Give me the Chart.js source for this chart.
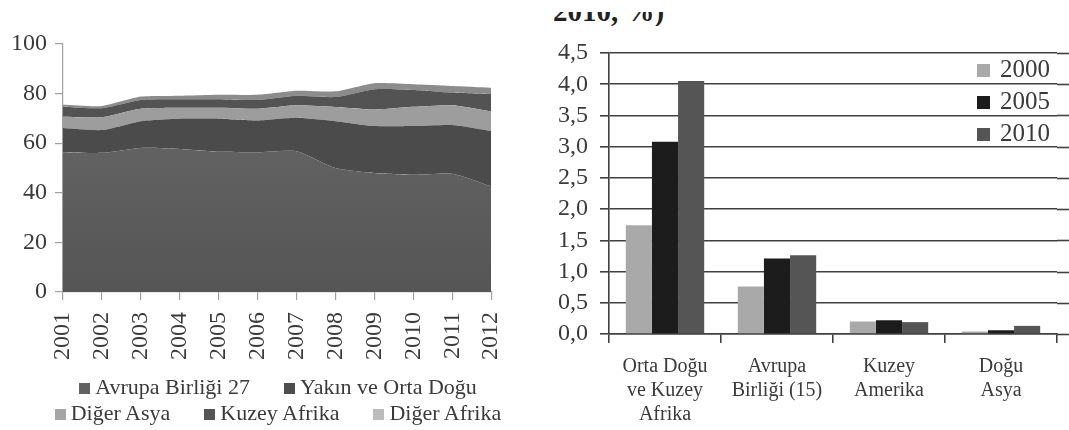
<!DOCTYPE html>
<html>
<head>
<meta charset="utf-8">
<script src="https://cdn.jsdelivr.net/npm/chart.js"></script>
<style>
  html, body { margin: 0; padding: 0; background: #fff; overflow: hidden; }
  body { width: 1069px; height: 430px; position: relative; font-family: "Liberation Serif", "Times New Roman", serif; color: #3a3a3a; }
  canvas { position: absolute; }
  #areaChart { left: 0; top: 0; }
  #barChart { left: 530px; top: 0; }
  #title { position: absolute; left: 553px; top: 12px; height: 14px; overflow: hidden; }
  #title div { position: relative; top: -15px; font: bold 29px "Liberation Serif", serif; line-height: 29px; color: #222; white-space: nowrap; }
  .legend-left { position: absolute; left: 0; top: 374px; width: 556px; text-align: center; font-size: 22px; }
  .legend-left .row { line-height: 26px; height: 26px; white-space: nowrap; }
  .legend-left .item { display: inline-block; margin: 0 17px; }
  .sw { display: inline-block; width: 11px; height: 11px; margin-right: 5px; }
  .legend-right { position: absolute; left: 977px; top: 53px; font-size: 25px; }
  .legend-right .row { line-height: 32px; height: 32px; white-space: nowrap; }
  .legend-right .sw { width: 13px; height: 13px; margin-right: 10px; }
</style>
</head>
<body>
<div id="title"><div>2010, %)</div></div>
<canvas id="areaChart" width="532" height="370"></canvas>
<canvas id="barChart" width="539" height="430"></canvas>
<div class="legend-left" id="legendLeft"></div>
<div class="legend-right" id="legendRight"></div>
<script>
// left chart: share of markets, stacked area
const years = ['2001', '2002', '2003', '2004', '2005', '2006', '2007', '2008', '2009', '2010', '2011', '2012'];
const avrupa = [56.4, 56.1, 58.1, 57.7, 56.6, 56.4, 56.8, 50.0, 48.0, 47.3, 47.7, 42.6];
const yakin = [9.7, 9.2, 10.8, 12.2, 13.3, 12.8, 13.5, 18.9, 18.9, 19.6, 19.6, 22.3];
const digerAsya = [4.6, 5.2, 5.0, 4.4, 4.4, 4.7, 5.0, 5.7, 6.7, 7.8, 8.0, 7.9];
const kuzeyAfrika = [4.0, 3.6, 3.5, 3.4, 3.4, 3.5, 3.8, 4.0, 8.2, 6.8, 5.1, 7.0];
const digerAfrika = [0.8, 0.9, 1.4, 1.4, 1.8, 2.1, 2.0, 2.3, 2.4, 2.3, 2.7, 2.6];
const areaTicks = [0, 20, 40, 60, 80, 100];

// right chart: bars by region
const regions = [['Orta Doğu', 've Kuzey', 'Afrika'], ['Avrupa', 'Birliği (15)'], ['Kuzey', 'Amerika'], ['Doğu', 'Asya']];
const v2000 = [1.74, 0.76, 0.20, 0.04];
const v2005 = [3.08, 1.21, 0.22, 0.06];
const v2010 = [4.05, 1.26, 0.19, 0.13];
const barTicks = [0, 0.5, 1, 1.5, 2, 2.5, 3, 3.5, 4, 4.5];

const serif = '"Liberation Serif", "Times New Roman", serif';
const textColor = '#3a3a3a';
const gridColor = '#404040';

Chart.defaults.animation = false;
Chart.defaults.responsive = false;
Chart.defaults.font.family = serif;
Chart.defaults.color = textColor;

const areaSeries = [
  { label: 'Avrupa Birliği 27', data: avrupa, fill: null, legend: '#626262' },
  { label: 'Yakın ve Orta Doğu', data: yakin, fill: '#4b4b4b', legend: '#4d4d4d' },
  { label: 'Diğer Asya', data: digerAsya, fill: '#9d9d9d', legend: '#a5a5a5' },
  { label: 'Kuzey Afrika', data: kuzeyAfrika, fill: '#535353', legend: '#555555' },
  { label: 'Diğer Afrika', data: digerAfrika, fill: '#8c8c8c', legend: '#bcbcbc' },
];

function avrupaFill(ctx) {
  const area = ctx.chart.chartArea;
  if (!area) return '#5f5f5f';
  const g = ctx.chart.ctx.createLinearGradient(0, area.top, 0, area.bottom);
  g.addColorStop(0, '#6b6b6b');
  g.addColorStop(1, '#555555');
  return g;
}

new Chart(document.getElementById('areaChart'), {
  type: 'line',
  data: {
    labels: years,
    datasets: areaSeries.map((s, i) => ({
      label: s.label,
      data: s.data,
      fill: i === 0 ? 'origin' : '-1',
      backgroundColor: i === 0 ? avrupaFill : s.fill,
      borderWidth: 0,
      pointRadius: 0,
      tension: 0.2,
    })),
  },
  options: {
    layout: { padding: { top: 44, right: 40, left: 0, bottom: 0 } },
    plugins: { legend: { display: false }, tooltip: { enabled: false } },
    scales: {
      x: {
        offset: false,
        afterFit: (s) => { s.height = 78; },
        grid: { drawOnChartArea: false, tickLength: 8, color: '#a0a0a0', lineWidth: 1.2 },
        border: { color: '#a0a0a0', width: 1.2 },
        ticks: { autoSkip: false, minRotation: 90, maxRotation: 90, padding: 12, font: { size: 24 }, color: textColor },
      },
      y: {
        stacked: true,
        min: 0,
        max: 100,
        afterFit: (s) => { s.width = 63; },
        afterBuildTicks: (s) => { s.ticks = areaTicks.map(v => ({ value: v })); },
        grid: { drawOnChartArea: false, tickLength: 8, color: '#a0a0a0', lineWidth: 1.2 },
        border: { color: '#a0a0a0', width: 1.2 },
        ticks: { autoSkip: false, padding: 8, font: { size: 24 }, color: textColor },
      },
    },
  },
});

// gridlines in the reference run on past the plot edge
const extendGrid = {
  id: 'extendGrid',
  afterDraw(chart) {
    const { ctx, chartArea, scales } = chart;
    ctx.save();
    ctx.strokeStyle = gridColor;
    ctx.lineWidth = 1.6;
    scales.y.ticks.forEach(t => {
      const py = Math.round(scales.y.getPixelForValue(t.value)) + 0.5;
      ctx.beginPath();
      ctx.moveTo(chartArea.right, py);
      ctx.lineTo(chart.width, py);
      ctx.stroke();
    });
    ctx.restore();
  },
};

new Chart(document.getElementById('barChart'), {
  type: 'bar',
  data: {
    labels: regions,
    datasets: [
      { label: '2000', data: v2000, backgroundColor: '#a9a9a9' },
      { label: '2005', data: v2005, backgroundColor: '#1c1c1c' },
      { label: '2010', data: v2010, backgroundColor: '#555555' },
    ],
  },
  options: {
    categoryPercentage: 0.7,
    barPercentage: 1.0,
    layout: { padding: { top: 53, right: 12, left: 0, bottom: 0 } },
    plugins: { legend: { display: false }, tooltip: { enabled: false } },
    scales: {
      x: {
        afterFit: (s) => { s.height = 96; },
        grid: { drawOnChartArea: false, offset: true, tickLength: 9, color: gridColor, lineWidth: 1.6 },
        border: { color: gridColor, width: 1.6 },
        ticks: { padding: 12, font: { size: 20, lineHeight: 1.2 }, color: textColor },
      },
      y: {
        min: 0,
        max: 4.5,
        afterFit: (s) => { s.width = 79; },
        afterBuildTicks: (s) => { s.ticks = barTicks.map(v => ({ value: v })); },
        grid: { tickLength: 9, color: gridColor, lineWidth: 1.6 },
        border: { color: gridColor, width: 1.6 },
        ticks: {
          autoSkip: false,
          padding: 12,
          font: { size: 24 },
          color: textColor,
          callback: (v) => Number(v).toFixed(1).replace('.', ','),
        },
      },
    },
  },
  plugins: [extendGrid],
});

// html legends
const leftRows = [[0, 1], [2, 3, 4]];
document.getElementById('legendLeft').innerHTML = leftRows.map(r =>
  '<div class="row">' + r.map(i =>
    '<span class="item"><span class="sw" style="background:' + areaSeries[i].legend + '"></span>' + areaSeries[i].label + '</span>'
  ).join('') + '</div>'
).join('');

const rightItems = [['2000', '#a9a9a9'], ['2005', '#1c1c1c'], ['2010', '#555555']];
document.getElementById('legendRight').innerHTML = rightItems.map(([t, c]) =>
  '<div class="row"><span class="sw" style="background:' + c + '"></span>' + t + '</div>'
).join('');
</script>
</body>
</html>
